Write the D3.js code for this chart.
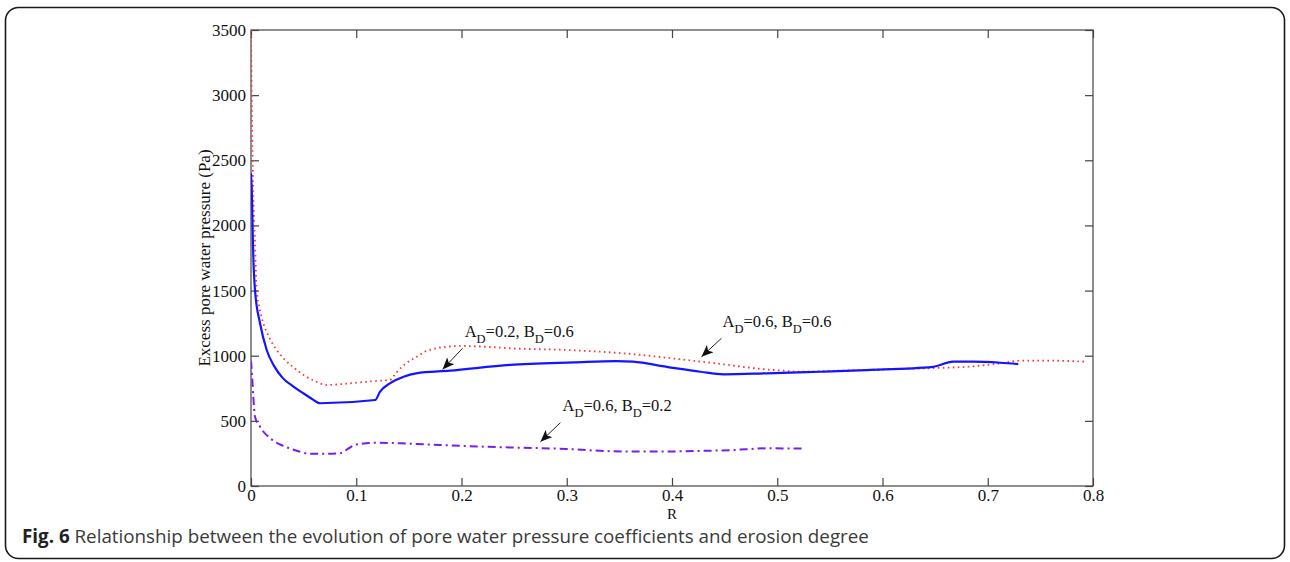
<!DOCTYPE html>
<html>
<head>
<meta charset="utf-8">
<script src="https://cdn.jsdelivr.net/npm/d3@7"></script>
<style>
  html, body { margin: 0; padding: 0; background: #fff; }
  svg { display: block; }
</style>
</head>
<body>
<svg id="chart" width="1290" height="562"></svg>
<script>
// Erosion degree R and excess pore water pressure (Pa) for three coefficient sets
const redR   = [0, 0.001, 0.002, 0.0038, 0.0054, 0.008, 0.0117, 0.018, 0.0244, 0.032, 0.040, 0.053, 0.062, 0.072, 0.09, 0.11, 0.125, 0.132, 0.138, 0.147, 0.157, 0.165, 0.172, 0.183, 0.2, 0.22, 0.246, 0.3, 0.351, 0.414, 0.448, 0.477, 0.505, 0.522, 0.56, 0.6, 0.648, 0.68, 0.712, 0.731, 0.76, 0.794];
const redP   = [3500, 2800, 2300, 1865, 1504, 1370, 1251, 1130, 1044, 970, 913, 837, 800, 775, 785, 800, 810, 814, 870, 940, 990, 1030, 1050, 1066, 1075, 1070, 1057, 1044, 1020, 967, 935, 905, 885, 877, 885, 895, 905, 915, 941, 962, 962, 954];

const blueR  = [0, 0.001, 0.0017, 0.0022, 0.0038, 0.0086, 0.0149, 0.022, 0.03, 0.04, 0.05, 0.058, 0.0656, 0.118, 0.1226, 0.132, 0.145, 0.157, 0.189, 0.246, 0.307, 0.347, 0.363, 0.395, 0.427, 0.449, 0.49, 0.52, 0.54, 0.585, 0.648, 0.667, 0.686, 0.712, 0.729];
const blueP  = [2400, 2200, 1913, 1760, 1504, 1249, 1044, 920, 830, 765, 710, 668, 635, 660, 724, 788, 839, 865, 885, 929, 949, 959, 954, 915, 877, 857, 865, 872, 877, 890, 915, 954, 954, 946, 936];

const purpR  = [0, 0.001, 0.0022, 0.0038, 0.0086, 0.02, 0.03, 0.04, 0.056, 0.07, 0.085, 0.092, 0.1, 0.12, 0.15, 0.2, 0.246, 0.3, 0.332, 0.36, 0.395, 0.43, 0.458, 0.47, 0.49, 0.526];
const purpP  = [960, 850, 685, 532, 455, 355, 310, 280, 248, 247, 252, 285, 318, 332, 325, 308, 296, 284, 270, 265, 265, 270, 276, 282, 289, 287];

const xTicks = [0, 0.1, 0.2, 0.3, 0.4, 0.5, 0.6, 0.7, 0.8];
const yTicks = [0, 500, 1000, 1500, 2000, 2500, 3000, 3500];

// Annotation labels: [A value, B value, text R, text P, arrow-start R, arrow-start P, tip R, tip P]
const notes = [
  ["0.2", "0.6", 0.203, 1143, 0.201, 1057, 0.182, 895],
  ["0.6", "0.6", 0.448, 1223, 0.447, 1134, 0.428, 992],
  ["0.6", "0.2", 0.296, 576, 0.294, 486, 0.275, 340]
];

const svg = d3.select("#chart");
const plot = { left: 251, right: 1093, top: 30, bottom: 486 };

// outer rounded frame
svg.append("rect")
  .attr("x", 5.5).attr("y", 7.5)
  .attr("width", 1279).attr("height", 551)
  .attr("rx", 13).attr("ry", 13)
  .attr("fill", "none").attr("stroke", "#1a1a1a").attr("stroke-width", 1.6);

const x = d3.scaleLinear().domain([0, 0.8]).range([plot.left, plot.right]);
const y = d3.scaleLinear().domain([0, 3500]).range([plot.bottom, plot.top]);

const serif = "'Liberation Serif', 'Times New Roman', serif";
const tickLen = 8;

// axes with inward ticks on all four sides
const axisColor = "#444";
function styleAxis(g) {
  g.select(".domain").remove();
  g.selectAll(".tick line").attr("stroke", axisColor).attr("stroke-width", 1.2);
  g.selectAll(".tick text").attr("fill", "#111").style("font-family", serif).style("font-size", "17px");
}
const fmtX = d => d === 0 ? "0" : d3.format(".1f")(d);

svg.append("g").attr("transform", `translate(0,${plot.bottom})`)
  .call(d3.axisBottom(x).tickValues(xTicks).tickFormat(fmtX).tickSizeInner(-tickLen).tickSizeOuter(0).tickPadding(3))
  .call(styleAxis);
svg.append("g").attr("transform", `translate(0,${plot.top})`)
  .call(d3.axisTop(x).tickValues(xTicks).tickFormat("").tickSizeInner(-tickLen).tickSizeOuter(0))
  .call(styleAxis);
svg.append("g").attr("transform", `translate(${plot.left},0)`)
  .call(d3.axisLeft(y).tickValues(yTicks).tickFormat(d3.format("d")).tickSizeInner(-tickLen).tickSizeOuter(0).tickPadding(5))
  .call(styleAxis);
svg.append("g").attr("transform", `translate(${plot.right},0)`)
  .call(d3.axisRight(y).tickValues(yTicks).tickFormat("").tickSizeInner(-tickLen).tickSizeOuter(0))
  .call(styleAxis);

// plot box
svg.append("rect")
  .attr("x", plot.left).attr("y", plot.top)
  .attr("width", plot.right - plot.left).attr("height", plot.bottom - plot.top)
  .attr("fill", "none").attr("stroke", axisColor).attr("stroke-width", 1.2);

// axis titles
svg.append("text")
  .attr("x", x(0.4)).attr("y", 519)
  .attr("text-anchor", "middle")
  .style("font-family", serif).style("font-size", "15px").attr("fill", "#111")
  .text("R");
svg.append("text")
  .attr("transform", `translate(210,258) rotate(-90)`)
  .attr("text-anchor", "middle")
  .style("font-family", serif).style("font-size", "17px").attr("fill", "#111")
  .text("Excess pore water pressure (Pa)");

// curves
const line = d3.line().x(d => x(d[0])).y(d => y(d[1])).curve(d3.curveMonotoneX);
svg.append("clipPath").attr("id", "plotClip").append("rect")
  .attr("x", plot.left).attr("y", plot.top - 1)
  .attr("width", plot.right - plot.left).attr("height", plot.bottom - plot.top + 1);
const curves = svg.append("g").attr("clip-path", "url(#plotClip)");

curves.append("path")
  .datum(purpR.map((r, i) => [r, purpP[i]]))
  .attr("d", line).attr("fill", "none")
  .attr("stroke", "#7a1cf0").attr("stroke-width", 2)
  .attr("stroke-dasharray", "8,4,2,4");

curves.append("path")
  .datum(redR.map((r, i) => [r, redP[i]]))
  .attr("d", line).attr("fill", "none")
  .attr("stroke", "#ff3535").attr("stroke-width", 1.8)
  .attr("stroke-dasharray", "1.6,3.4");

curves.append("path")
  .datum(blueR.map((r, i) => [r, blueP[i]]))
  .attr("d", line).attr("fill", "none")
  .attr("stroke", "#1414ff").attr("stroke-width", 2.2);

// annotation arrows and labels
svg.append("defs").append("marker")
  .attr("id", "head").attr("viewBox", "0 0 12 10")
  .attr("refX", 12).attr("refY", 5)
  .attr("markerWidth", 12).attr("markerHeight", 10)
  .attr("markerUnits", "userSpaceOnUse")
  .attr("orient", "auto")
  .append("path").attr("d", "M0,0 L12,5 L0,10 L3,5 Z").attr("fill", "#111");

notes.forEach(n => {
  const [a, b, tr, tp, sr, sp, er, ep] = n;
  svg.append("line")
    .attr("x1", x(sr)).attr("y1", y(sp))
    .attr("x2", x(er)).attr("y2", y(ep))
    .attr("stroke", "#222").attr("stroke-width", 1)
    .attr("marker-end", "url(#head)");
  const t = svg.append("text")
    .attr("x", x(tr)).attr("y", y(tp))
    .style("font-family", serif).style("font-size", "16.5px").attr("fill", "#111");
  t.append("tspan").text("A");
  t.append("tspan").attr("dy", 6).style("font-size", "12.5px").text("D");
  t.append("tspan").attr("dy", -6).text("=" + a + ", B");
  t.append("tspan").attr("dy", 6).style("font-size", "12.5px").text("D");
  t.append("tspan").attr("dy", -6).text("=" + b);
});

// caption
const cap = svg.append("text")
  .attr("x", 22).attr("y", 543)
  .style("font-family", "'Open Sans', 'Noto Sans', sans-serif").style("font-size", "18.8px").attr("fill", "#3a3a3a");
cap.append("tspan").style("font-weight", "bold").attr("fill", "#222").text("Fig. 6");
cap.append("tspan").text(" Relationship between the evolution of pore water pressure coefficients and erosion degree");
</script>
</body>
</html>
